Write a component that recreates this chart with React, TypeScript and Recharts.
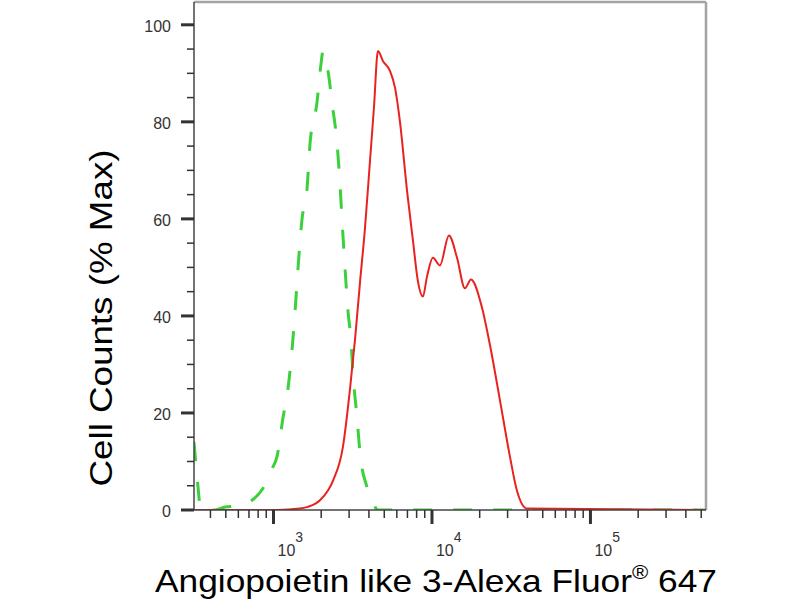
import { LineChart, Line, XAxis, YAxis, ReferenceLine } from 'recharts'

// intensity (log x) and % max for each histogram
const isotypeX = [
  315, 329, 349, 428, 494, 571, 642, 732, 859, 979, 1052, 1148, 1234, 1309, 1368, 1429,
  1514, 1626, 1700, 1881, 1995, 2051, 2113, 2208, 2339, 2518, 2630, 2704, 2825, 2951,
  3083, 3176, 3367, 3516, 3890, 4250, 4560, 536000,
]
const isotypeY = [
  14, 7, 0, 0, 0.6, 0.8, 1, 2, 4.5, 8.5, 11, 19, 25, 33, 41, 50,
  60, 66, 75.5, 84, 92, 94.5, 93, 90.5, 84, 75.5, 67, 60, 50, 41,
  35, 28, 19, 11.7, 4.7, 1.4, 0, 0,
]

const sampleX = [
  315, 1052, 1469, 1626, 1963, 2371, 2742, 3041, 3266, 3516, 3776, 4064, 4305, 4560,
  4909, 5433, 5848, 6281, 6950, 7586, 8166, 8770, 9290, 10139, 11220, 12794, 14388,
  16144, 17620, 20654, 23227, 26853, 31046, 34356, 39719, 536000,
]
const sampleY = [
  0, 0, 0.3, 0.6, 2, 6, 13, 25, 35, 47, 58, 72, 83, 94.6,
  92.5, 90.5, 87, 80, 66, 55.5, 47, 44, 48, 52, 50.4, 56.6, 52,
  45.7, 47.5, 41.8, 34, 22.6, 11, 4, 0.3, 0,
]

const xTicks = [
  400, 500, 600, 700, 800, 900, 1000, 2000, 3000, 4000, 5000, 6000, 7000, 8000, 9000,
  10000, 20000, 30000, 40000, 50000, 60000, 70000, 80000, 90000, 100000, 200000, 300000,
  400000, 500000,
]
const yTicks = [0, 5, 10, 15, 20, 25, 30, 35, 40, 45, 50, 55, 60, 65, 70, 75, 80, 85, 90, 95, 100]
const xMin = 315
const xMax = 536000
const yMax = 104.7

const isotypeData = isotypeX.map((x, i) => ({ x, y: isotypeY[i] }))
const sampleData = sampleX.map((x, i) => ({ x, y: sampleY[i] }))

const font = '"Liberation Sans", Arial, sans-serif'

const YTick = (props: any) => {
  const { x, y, payload } = props
  const v = payload.value
  const major = v % 20 === 0
  return (
    <g>
      <line x1={x - (major ? 13 : 7)} x2={x} y1={y} y2={y} stroke="#333" strokeWidth={major ? 3 : 1.5} />
      {major && (
        <text x={x - 23} y={y + 7} textAnchor="end" fontSize={16} fill="#333" fontFamily={font}>
          {v}
        </text>
      )}
    </g>
  )
}

const XTick = (props: any) => {
  const { x, y, payload } = props
  const v = payload.value
  const exp = Math.round(Math.log10(v))
  const major = Math.abs(v - Math.pow(10, exp)) < 1e-6
  return (
    <g>
      <line x1={x} x2={x} y1={y} y2={y + (major ? 14 : 8)} stroke="#333" strokeWidth={major ? 3 : 1.5} />
      {major && (
        <text x={x + 4} y={y + 46} fontSize={16} fill="#333" fontFamily={font}>
          10
          <tspan dy={-14} fontSize={14}>{exp}</tspan>
        </text>
      )}
    </g>
  )
}

export default function App() {
  return (
    <div style={{ position: 'absolute', left: 0, top: 0, width: 800, height: 600, background: '#fff' }}>
      <LineChart width={800} height={600} margin={{ top: 2, right: 94, bottom: 0, left: 0 }}>
        <XAxis
          type="number"
          dataKey="x"
          scale="log"
          domain={[xMin, xMax]}
          allowDataOverflow
          ticks={xTicks}
          interval={0}
          height={90}
          tickSize={0}
          tickMargin={0}
          tickLine={false}
          tick={<XTick />}
          axisLine={{ stroke: '#444', strokeWidth: 1.5 }}
        />
        <YAxis
          type="number"
          domain={[0, yMax]}
          allowDataOverflow
          ticks={yTicks}
          interval={0}
          width={194}
          tickSize={0}
          tickMargin={0}
          tickLine={false}
          tick={<YTick />}
          axisLine={{ stroke: '#444', strokeWidth: 1.5 }}
        />
        <ReferenceLine y={yMax} stroke="#a3a3a3" strokeWidth={2.5} />
        <ReferenceLine x={xMax} stroke="#a3a3a3" strokeWidth={2.5} />
        <Line
          data={isotypeData}
          dataKey="y"
          type="monotone"
          stroke="#3bd13b"
          strokeWidth={3}
          strokeDasharray="19 21"
          dot={false}
          isAnimationActive={false}
        />
        <Line
          data={sampleData}
          dataKey="y"
          type="monotone"
          stroke="#e8231f"
          strokeWidth={2}
          dot={false}
          isAnimationActive={false}
        />
      </LineChart>
      <svg width={800} height={600} style={{ position: 'absolute', left: 0, top: 0, pointerEvents: 'none' }}>
        <text
          x={112}
          y={318}
          transform="rotate(-90, 112, 318)"
          textAnchor="middle"
          fontSize={32}
          fontFamily={font}
          fill="#000"
          textLength={337}
          lengthAdjust="spacingAndGlyphs"
        >
          Cell Counts (% Max)
        </text>
        <text x={155} y={592} fontSize={32} fontFamily={font} fill="#000" textLength={562} lengthAdjust="spacingAndGlyphs">
          Angiopoietin like 3-Alexa Fluor
          <tspan fontSize={20} dy={-13}>®</tspan>
          <tspan dy={13}> 647</tspan>
        </text>
      </svg>
    </div>
  )
}
